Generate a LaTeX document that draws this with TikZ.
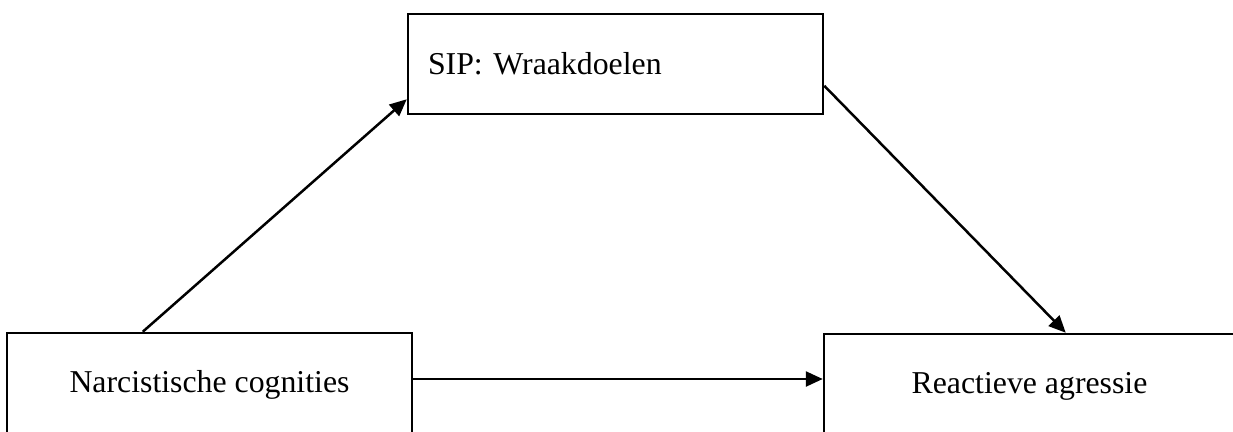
\documentclass[tikz,border=0pt]{standalone}
\usepackage{fontspec}
\setmainfont{Liberation Serif}
\usetikzlibrary{arrows.meta}
\begin{document}
\begin{tikzpicture}[x=1pt,y=-1pt,
  box/.style={draw=black,line width=2.5pt,rectangle,font=\fontsize{31.8}{38}\selectfont\frenchspacing,inner sep=0pt},
  arr/.style={line width=2.5pt,-{Triangle[length=17pt,width=15pt]}}]
\clip (0,0) rectangle (1233,431);
\fill[white] (0,0) rectangle (1233,431);
\node[box,minimum width=415pt,minimum height=100pt,text width=375pt,align=left] (top) at (615.5,64) {SIP: Wraakdoelen};
\node[box,minimum width=405pt,minimum height=104pt] (left) at (209.5,385) {Narcistische cognities};
\node[box,minimum width=411pt,minimum height=104pt] (right) at (1029.5,386) {Reactieve agressie};
\draw[arr] ([xshift=137pt]left.north west) -- ([yshift=16pt]top.south west);
\draw[arr] ([yshift=-73pt]top.north east) -- ([xshift=243pt]right.north west);
\draw[arr] ([yshift=6pt]left.east) -- ([yshift=6pt]left.east -| right.west);
\end{tikzpicture}
\end{document}
